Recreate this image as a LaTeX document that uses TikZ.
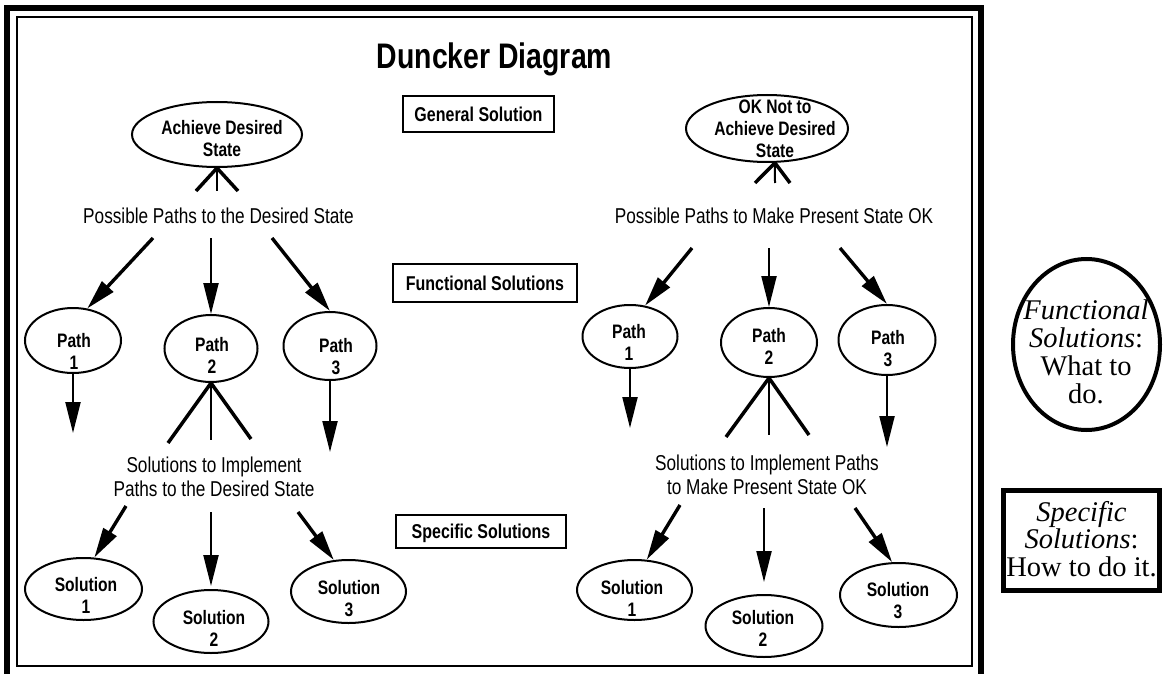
\documentclass[tikz,border=0pt]{standalone}
\usepackage{fontspec}
\usetikzlibrary{shapes.geometric,arrows.meta}
\newfontfamily\narrowsf[FakeStretch=0.8]{Liberation Sans}
\newfontfamily\legendrm{Liberation Serif}

\begin{document}
\begin{tikzpicture}[x=1pt,y=-1pt,
  oval/.style={draw,ellipse,line width=2pt,inner sep=0pt},
  ovaltext/.style={anchor=north,inner sep=0pt,align=center,
    font=\narrowsf\bfseries\fontsize{19.5}{22}\selectfont},
  lbl/.style={anchor=north,inner sep=0pt,align=center,
    font=\narrowsf\fontsize{21.5}{23.5}\selectfont},
  tagbox/.style={draw,line width=1.8pt,inner sep=0pt,
    font=\narrowsf\bfseries\fontsize{20}{22}\selectfont,
    text height=14.5pt,text depth=0pt},
  fatarrow/.style={-{Triangle[length=30pt,width=15pt]},line width=3.4pt},
  vertarrow/.style={-{Triangle[length=31pt,width=15pt]},line width=2.2pt},
  splitleg/.style={line width=3.5pt},
  splitstem/.style={line width=2pt},
  legendtext/.style={anchor=north,inner sep=0pt,align=center,
    font=\legendrm\fontsize{28.5}{27.7}\selectfont},
]
\useasboundingbox (0,0) rectangle (1173,674);
\fill[white] (0,0) rectangle (1173,674);

% double frame round the diagram
\draw[line width=6pt,line join=miter] (6.5,700) -- (6.5,8.5) -- (981,8.5) -- (981,700);
\draw[line width=2pt] (16.5,17) rectangle (972,666);

% title and level tags
\node[anchor=base,inner sep=0pt,font=\narrowsf\bfseries\fontsize{35.5}{40}\selectfont]
  (title) at (494.5,69) {Duncker Diagram};
\node[tagbox,minimum width=151pt,minimum height=36pt] (gsol) at (478.5,114) {General Solution};
\node[tagbox,minimum width=184pt,minimum height=38pt] (fsol) at (485,283) {Functional Solutions};
\node[tagbox,minimum width=170pt,minimum height=33pt] (ssol) at (481,531.5) {Specific Solutions};

% ---------- left tree: achieve the desired state ----------
\node[oval,minimum width=170pt,minimum height=65pt] (goalA) at (217,134.5) {};
\node[ovaltext] (goalAt) at (222,120) {Achieve Desired\\State};
\coordinate (lamAl) at (196,191);
\coordinate (lamAm) at (217,191);
\coordinate (lamAr) at (238,191);
\draw[splitleg] (goalA.south) -- (lamAl);
\draw[splitstem] (goalA.south) -- (lamAm);
\draw[splitleg] (goalA.south) -- (lamAr);
\node[lbl] (pathsA) at (218.5,208) {Possible Paths to the Desired State};

\node[oval,minimum width=96pt,minimum height=65pt] (pA1) at (73,340.5) {};
\node[ovaltext] (pA1t) at (74,333) {Path\\1};
\node[oval,minimum width=93pt,minimum height=67pt] (pA2) at (211,348.5) {};
\node[ovaltext] (pA2t) at (212,337) {Path\\2};
\node[oval,minimum width=93pt,minimum height=68pt] (pA3) at (330,346) {};
\node[ovaltext] (pA3t) at (336,338) {Path\\3};

\coordinate (aA1) at (153,238);
\coordinate (aA2) at (211,238);
\coordinate (aA3) at (272,238);
\draw[fatarrow] (aA1) -- (pA1.66);
\draw[vertarrow] (aA2) -- (pA2.north);
\draw[fatarrow] (aA3) -- (pA3.north);

\coordinate (dA1) at (73,433);
\coordinate (dA3) at (330,452);
\draw[vertarrow] (pA1.south) -- (dA1);
\draw[vertarrow] (pA3.south) -- (dA3);

\coordinate (sA2l) at (168,443);
\coordinate (sA2m) at (211,440);
\coordinate (sA2r) at (251,439);
\draw[splitleg] (pA2.south) -- (sA2l);
\draw[splitstem] (pA2.south) -- (sA2m);
\draw[splitleg] (pA2.south) -- (sA2r);
\node[lbl] (implA) at (214,457) {Solutions to Implement\\Paths to the Desired State};

\node[oval,minimum width=117pt,minimum height=62pt] (sA1) at (83.5,589) {};
\node[ovaltext] (sA1t) at (86,577) {Solution\\1};
\node[oval,minimum width=115pt,minimum height=63pt] (sA2) at (211,621.5) {};
\node[ovaltext] (sA2t) at (214,610) {Solution\\2};
\node[oval,minimum width=115pt,minimum height=63pt] (sA3) at (348.5,591.5) {};
\node[ovaltext] (sA3t) at (349,580) {Solution\\3};

\coordinate (bA1) at (126,506);
\coordinate (bA2) at (211,512);
\coordinate (bA3) at (298,512);
\draw[fatarrow] (bA1) -- (sA1.71);
\draw[vertarrow,shorten >=3pt] (bA2) -- (sA2.north);
\draw[fatarrow] (bA3) -- (sA3.115);

% ---------- right tree: make the present state OK ----------
\node[oval,minimum width=162pt,minimum height=67pt] (goalB) at (767,128.5) {};
\node[ovaltext] (goalBt) at (775,100) {OK Not to\\Achieve Desired\\State};
\coordinate (lamBl) at (755,183);
\coordinate (lamBm) at (775,183);
\coordinate (lamBr) at (790,183);
\draw[splitleg] (goalB.-77) -- (lamBl);
\draw[splitstem] (goalB.-77) -- (lamBm);
\draw[splitleg] (goalB.-77) -- (lamBr);
\node[lbl] (pathsB) at (774,208) {Possible Paths to Make Present State OK};

\node[oval,minimum width=95pt,minimum height=63pt] (pB1) at (630,336.5) {};
\node[ovaltext] (pB1t) at (629,324) {Path\\1};
\node[oval,minimum width=96pt,minimum height=69pt] (pB2) at (769,342.5) {};
\node[ovaltext] (pB2t) at (769,328) {Path\\2};
\node[oval,minimum width=97pt,minimum height=70pt] (pB3) at (887,340) {};
\node[ovaltext] (pB3t) at (888,330) {Path\\3};

\coordinate (aB1) at (692,248);
\coordinate (aB2) at (769,248);
\coordinate (aB3) at (840,248);
\draw[fatarrow] (aB1) -- (pB1.64);
\draw[vertarrow] (aB2) -- (pB2.north);
\draw[fatarrow] (aB3) -- (pB3.north);

\coordinate (dB1) at (630,428);
\coordinate (dB3) at (887,447);
\draw[vertarrow] (pB1.south) -- (dB1);
\draw[vertarrow] (pB3.south) -- (dB3);

\coordinate (sB2l) at (726,437);
\coordinate (sB2m) at (769,435);
\coordinate (sB2r) at (809,435);
\draw[splitleg] (pB2.south) -- (sB2l);
\draw[splitstem] (pB2.south) -- (sB2m);
\draw[splitleg] (pB2.south) -- (sB2r);
\node[lbl] (implB) at (767,455) {Solutions to Implement Paths\\to Make Present State OK};

\node[oval,minimum width=115pt,minimum height=60pt] (sB1) at (634.5,590) {};
\node[ovaltext] (sB1t) at (632,580) {Solution\\1};
\node[oval,minimum width=117pt,minimum height=62pt] (sB2) at (764,626) {};
\node[ovaltext] (sB2t) at (763,610) {Solution\\2};
\node[oval,minimum width=117pt,minimum height=64pt] (sB3) at (898.5,595) {};
\node[ovaltext] (sB3t) at (898,582) {Solution\\3};

\coordinate (bB1) at (680,505);
\coordinate (bB2) at (764,508);
\coordinate (bB3) at (855,508);
\draw[fatarrow] (bB1) -- (sB1.68);
\draw[vertarrow,shorten >=12pt] (bB2) -- (sB2.north);
\draw[fatarrow] (bB3) -- (sB3.101);

% ---------- legend ----------
\node[draw,ellipse,line width=4pt,inner sep=0pt,minimum width=147pt,minimum height=171pt]
  (legF) at (1086.5,344.5) {};
\node[legendtext] (legFt) at (1086,300) {\textit{Functional}\\\textit{Solutions}:\\What to\\do.};
\node[draw,line width=5pt,inner sep=0pt,minimum width=156pt,minimum height=100pt]
  (legS) at (1081.5,540.5) {};
\node[legendtext] (legSt) at (1081.5,501) {\textit{Specific}\\\textit{Solutions}:\\How to do it.};
\end{tikzpicture}
\end{document}
